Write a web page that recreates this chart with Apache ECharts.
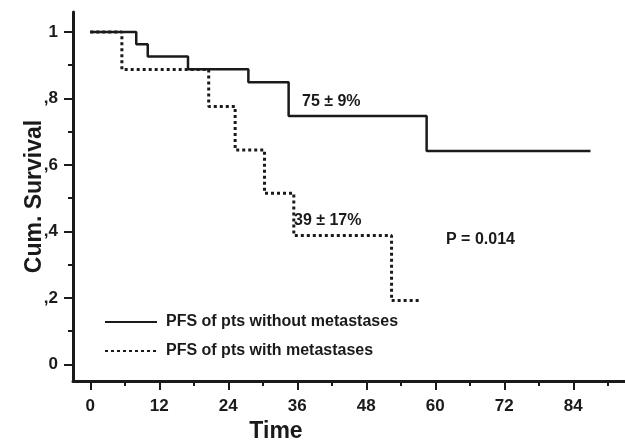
<!DOCTYPE html>
<html>
<head>
<meta charset="utf-8">
<script src="https://cdn.jsdelivr.net/npm/echarts@6/dist/echarts.min.js"></script>
<style>html,body{margin:0;padding:0;background:#fff}#c{width:625px;height:441px}</style>
</head>
<body>
<div id="c"></div>
<script>
// Data
const timeWithout = [0, 8, 10, 17, 27.5, 34.5, 58.5, 87];
const survWithout = [1, 0.963, 0.926, 0.888, 0.849, 0.747, 0.642, 0.642];
const timeWith = [0, 5.5, 20.6, 25.2, 30.3, 35.4, 52.4, 57.2];
const survWith = [1, 0.887, 0.776, 0.645, 0.515, 0.388, 0.192, 0.192];
const xMajorTicks = [0, 12, 24, 36, 48, 60, 72, 84];
const xMinorTicks = [6, 18, 30, 42, 54, 66, 78, 90];
const yMajorTicks = [0, 0.2, 0.4, 0.6, 0.8, 1];
const yMinorTicks = [0.1, 0.3, 0.5, 0.7, 0.9];
const yTickLabels = ['0', ',2', ',4', ',6', ',8', '1'];
const seriesNames = ['PFS of pts without metastases', 'PFS of pts with metastases'];
const annotations = ['75 \u00b1 9%', '39 \u00b1 17%', 'P = 0.014'];
const xName = 'Time';
const yName = 'Cum. Survival';

const FONT = '"Liberation Sans", Arial, sans-serif';
const INK = '#1a1a1a';
const chart = echarts.init(document.getElementById('c'), null, {renderer: 'canvas'});

const zip = (a, b) => a.map((v, i) => [v, b[i]]);

chart.setOption({
  animation: false,
  backgroundColor: '#fff',
  grid: {left: 73, right: 0, top: 12, bottom: 60, containLabel: false, outerBoundsMode: 'none'},
  xAxis: [{
    type: 'value', min: -3, max: 93,
    name: xName, nameLocation: 'middle', nameGap: 39, nameMoveOverlap: false,
    nameTextStyle: {fontFamily: FONT, fontWeight: 'bold', fontSize: 23, color: INK, padding: [0, 146, 0, 0]},
    axisLine: {show: true, onZero: false, lineStyle: {color: INK, width: 3}},
    axisTick: {show: true, inside: false, length: 9, lineStyle: {color: INK, width: 2}, customValues: xMajorTicks},
    axisLabel: {show: true, margin: 17, fontFamily: FONT, fontWeight: 'bold', fontSize: 17, color: INK, customValues: xMajorTicks},
    splitLine: {show: false}
  }, {
    type: 'value', min: -3, max: 93, position: 'bottom',
    axisLine: {show: false, onZero: false},
    axisTick: {show: true, length: 5, lineStyle: {color: INK, width: 2}, customValues: xMinorTicks},
    axisLabel: {show: false, customValues: xMinorTicks},
    splitLine: {show: false}
  }],
  yAxis: [{
    type: 'value', min: -0.05, max: 1.06,
    name: yName, nameLocation: 'middle', nameGap: 27, nameRotate: 90, nameMoveOverlap: false,
    nameTextStyle: {fontFamily: FONT, fontWeight: 'bold', fontSize: 23, color: INK},
    axisLine: {show: true, onZero: false, lineStyle: {color: INK, width: 3}},
    axisTick: {show: true, length: 9, lineStyle: {color: INK, width: 2}, customValues: yMajorTicks},
    axisLabel: {show: true, margin: 15, fontFamily: FONT, fontWeight: 'bold', fontSize: 17, color: INK,
      customValues: yMajorTicks,
      formatter: function (v) {
        const i = yMajorTicks.findIndex(t => Math.abs(t - v) < 1e-6);
        return i >= 0 ? yTickLabels[i] : '';
      }},
    splitLine: {show: false}
  }, {
    type: 'value', min: -0.05, max: 1.06, position: 'left',
    axisLine: {show: false, onZero: false},
    axisTick: {show: true, length: 5, lineStyle: {color: INK, width: 2}, customValues: yMinorTicks},
    axisLabel: {show: false, customValues: yMinorTicks},
    splitLine: {show: false}
  }],
  legend: {
    orient: 'vertical', left: 99, top: 309,
    itemWidth: 52, itemHeight: 14, itemGap: 13,
    itemStyle: {opacity: 0},
    textStyle: {fontFamily: FONT, fontWeight: 'bold', fontSize: 16, color: INK, padding: [0, 0, 0, 4]},
    data: seriesNames
  },
  series: [{
    name: seriesNames[0], type: 'line', step: 'end', symbol: 'none',
    data: zip(timeWithout, survWithout),
    lineStyle: {color: INK, width: 2.5, type: 'solid'},
    itemStyle: {color: INK}
  }, {
    name: seriesNames[1], type: 'line', step: 'end', symbol: 'none',
    data: zip(timeWith, survWith),
    lineStyle: {color: INK, width: 3, type: [3, 3]},
    itemStyle: {color: INK},
    z: 3
  }],
  graphic: [
    {type: 'text', left: 302, top: 94, style: {text: annotations[0], font: 'bold 16px ' + FONT, fill: INK}},
    {type: 'text', left: 294, top: 213, style: {text: annotations[1], font: 'bold 16px ' + FONT, fill: INK}},
    {type: 'text', left: 446, top: 232, style: {text: annotations[2], font: 'bold 16px ' + FONT, fill: INK}}
  ]
});
</script>
</body>
</html>
